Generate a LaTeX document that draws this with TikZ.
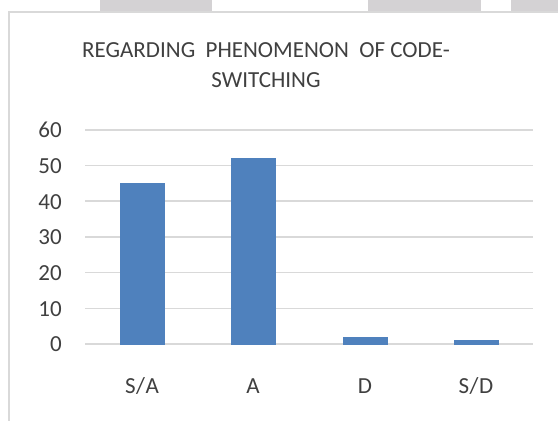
\documentclass[tikz,border=0pt]{standalone}
\usepackage{fontspec}
\setmainfont{Carlito}
\usetikzlibrary{positioning}
\definecolor{barblue}{RGB}{79,129,189}
\definecolor{gridgrey}{RGB}{217,217,217}
\definecolor{framegrey}{RGB}{217,217,217}
\definecolor{txtgrey}{RGB}{64,64,64}
\definecolor{bandgrey}{RGB}{212,210,212}
\tikzset{
  bar/.style={fill=barblue, draw=none},
  grid line/.style={draw=gridgrey, line width=1.6pt},
  frame/.style={draw=framegrey, line width=1.6pt},
  ticklabel/.style={font=\fontsize{23}{27}\selectfont, text=txtgrey, inner sep=0pt},
  catlabel/.style={font=\fontsize{23}{27}\selectfont, text=txtgrey, inner sep=0pt},
  title/.style={font=\fontsize{23}{30}\selectfont, text=txtgrey, align=center, inner sep=0pt},
  band/.style={fill=bandgrey, draw=none},
}

\begin{document}
\begin{tikzpicture}[x=1pt, y=-1pt]
\useasboundingbox (0,0) rectangle (558,421);

% page strip above the chart
\fill[band] (100,0) rectangle (212,11);
\fill[band] (368,0) rectangle (481,11);
\fill[band] (511,0) rectangle (558,11);

% chart frame
\draw[frame] (9,421) -- (9,12) -- (558,12);

% title
\node[title] (ttl) at (266,65) {REGARDING\ \ PHENOMENON\ \ OF CODE-\\SWITCHING};

% gridlines and value axis
\foreach \v in {0,10,...,60} {
  \draw[grid line] (85,344-3.57*\v) coordinate (g\v) -- (533,344-3.57*\v);
  \node[ticklabel, anchor=east] (t\v) at (62,344.5-3.57*\v) {\v};
}

% bars
\foreach \x/\h/\c/\n in {142/45/S\kern0.5pt\slash\kern0.5pt A/sa, 253/52/A/a, 365/2/D/d, 476/1/S\kern0.5pt\slash\kern0.5pt D/sd} {
  \fill[bar] (\x-22.5,344.5) rectangle (\x+22.5,344-3.57*\h);
  \node[catlabel, anchor=base] (c\n) at (\x,393.3) {\c};
}

\end{tikzpicture}
\end{document}
